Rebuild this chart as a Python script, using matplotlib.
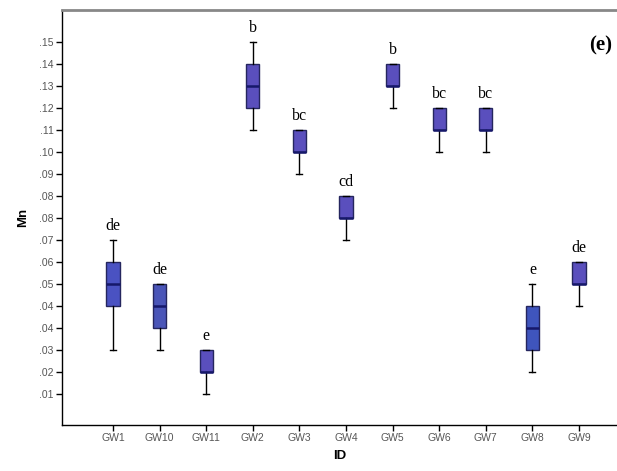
import numpy as np
import matplotlib
matplotlib.use("Agg")
import matplotlib.pyplot as plt

# Mn concentration per well: whisker low, Q1, median, Q3, whisker high
wells = ["GW1", "GW10", "GW11", "GW2", "GW3", "GW4", "GW5", "GW6", "GW7", "GW8", "GW9"]
whis_lo = [0.0275, 0.0275, 0.0100, 0.1150, 0.0975, 0.07125, 0.12375, 0.10625, 0.10625, 0.01875, 0.0450]
q1 = [0.0450, 0.03625, 0.01875, 0.12375, 0.10625, 0.0800, 0.1325, 0.1150, 0.1150, 0.0275, 0.05375]
med = [0.05375, 0.0450, 0.01875, 0.1325, 0.10625, 0.0800, 0.1325, 0.1150, 0.1150, 0.03625, 0.05375]
q3 = [0.0625, 0.05375, 0.0275, 0.14125, 0.1150, 0.08875, 0.14125, 0.12375, 0.12375, 0.0450, 0.0625]
whis_hi = [0.07125, 0.05375, 0.0275, 0.1500, 0.1150, 0.08875, 0.14125, 0.12375, 0.12375, 0.05375, 0.0625]
groups = ["de", "de", "e", "b", "bc", "cd", "b", "bc", "bc", "e", "de"]
box_colors = ["#4a52c2", "#4a55b8", "#5a4fbd", "#5a4fbd", "#5a4fbd", "#5a4fbd",
              "#5a4fbd", "#5a4fbd", "#5a4fbd", "#3f55bd", "#5a4fbd"]

# y ticks as printed on the axis
ytick_pos = np.linspace(0.15, 0.01, 17)
ytick_lab = [".15", ".14", ".13", ".12", ".11", ".10", ".09", ".08", ".08",
             ".07", ".06", ".05", ".04", ".04", ".03", ".02", ".01"]

fig = plt.figure(figsize=(6.17, 4.71), dpi=100)
ax = fig.add_axes([62 / 617, 1 - 425 / 471, 1 - 62 / 617, (425 - 10) / 471])

stats = []
for i in range(len(wells)):
    stats.append({"whislo": whis_lo[i], "q1": q1[i], "med": med[i],
                  "q3": q3[i], "whishi": whis_hi[i], "fliers": []})

pos = np.arange(1, len(wells) + 1)
bp = ax.bxp(stats, positions=pos, widths=0.28, patch_artist=True,
            showfliers=False, capwidths=0.13,
            boxprops=dict(edgecolor="#25265e", linewidth=1.0),
            medianprops=dict(color="#16186a", linewidth=1.8),
            whiskerprops=dict(color="black", linewidth=1.0),
            capprops=dict(color="black", linewidth=1.0))
for patch, c in zip(bp["boxes"], box_colors):
    patch.set_facecolor(c)

# significance letters above each box
for i in range(len(wells)):
    ax.text(pos[i], whis_hi[i] + 0.0025, groups[i], ha="center", va="bottom",
            fontsize=11.5, family="Liberation Serif", color="black")

ax.text(11.47, 0.1445, "(e)", ha="center", va="bottom", fontsize=15,
        fontweight="bold", family="Liberation Serif")

ax.set_xlim(-0.094, 11.815)
ax.set_ylim(-0.0023, 0.1627)
ax.set_xticks(pos)
ax.set_xticklabels(wells)
ax.set_yticks(ytick_pos)
ax.set_yticklabels(ytick_lab)
ax.tick_params(axis="both", labelsize=7.5, labelcolor="#555555", length=4, width=1.0,
               pad=2, direction="out")
for lab in ax.get_xticklabels() + ax.get_yticklabels():
    lab.set_family("Liberation Sans")

ax.set_xlabel("ID", fontsize=9.5, fontweight="bold", family="Liberation Sans", labelpad=5)
ax.set_ylabel("Mn", fontsize=9.5, fontweight="bold", family="Liberation Sans", labelpad=7)

ax.spines["right"].set_visible(False)
ax.spines["top"].set_color("#888888")
ax.spines["top"].set_linewidth(2.0)
ax.spines["left"].set_linewidth(1.0)
ax.spines["bottom"].set_linewidth(1.0)

fig.savefig("out.png", dpi=100)
